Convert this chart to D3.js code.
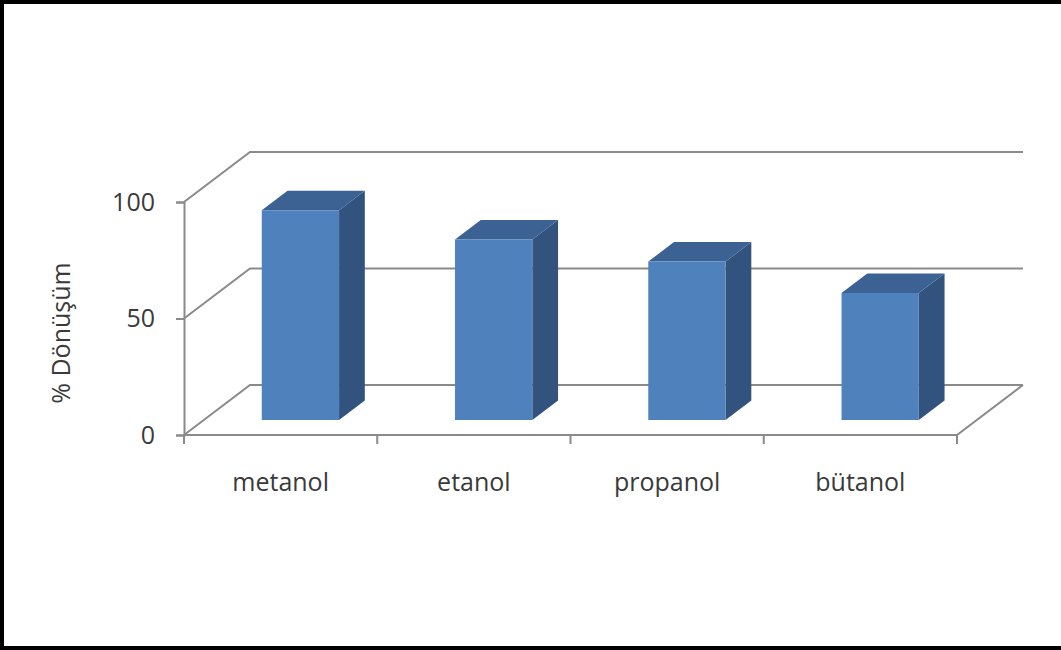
<!DOCTYPE html>
<html>
<head>
<meta charset="utf-8">
<script src="https://cdn.jsdelivr.net/npm/d3@7"></script>
<style>
  body { margin: 0; background: #fff; }
  text { font-family: "Open Sans", sans-serif; fill: #3a3a3a; }
</style>
</head>
<body>
<div id="chart"></div>
<script>
const categories = ['metanol', 'etanol', 'propanol', 'bütanol'],
	values = [90, 77.5, 68, 54.5],
	yTicks = [0, 50, 100],
	yTitle = '% Dönüşüm';

const W = 1061, H = 650,
	plot = {left: 184, right: 957, top: 202, bottom: 435},
	depth = {dx: 66, dy: -50},         // offset of back wall
	barDepth = [0.3, 0.69],            // bar sits between these depth fractions
	gridColor = '#8a8a8a',
	faceColor = '#4f81bd', topColor = '#3b6292', sideColor = '#31537d';

const svg = d3.select('#chart')
	.append('svg')
	.attr('width', W)
	.attr('height', H);

// outer frame (right side is cut off in the source)
svg.append('rect')
	.attr('x', 2).attr('y', 2)
	.attr('width', W + 10).attr('height', H - 4)
	.attr('fill', 'white')
	.attr('stroke', 'black')
	.attr('stroke-width', 4);

const x = d3.scaleBand()
	.domain(categories)
	.range([plot.left, plot.right])
	.paddingInner(0).paddingOuter(0);

const y = d3.scaleLinear()
	.domain([0, 100])
	.range([plot.bottom, plot.top]);

// point at (px on front plane, value, depth fraction)
const pt = (px, v, f) => [px + depth.dx * f, y(v) + depth.dy * f];
const line = d3.line();

// back wall gridlines + side wall diagonals
yTicks.forEach(v => {
	svg.append('path')
		.attr('d', line([pt(plot.left, v, 0), pt(plot.left, v, 1), pt(plot.right, v, 1)]))
		.attr('fill', 'none')
		.attr('stroke', gridColor)
		.attr('stroke-width', 2);
});

// floor front edge + right edge
svg.append('path')
	.attr('d', line([pt(plot.left, 0, 0), pt(plot.right, 0, 0), pt(plot.right, 0, 1)]))
	.attr('fill', 'none')
	.attr('stroke', gridColor)
	.attr('stroke-width', 2);

// y axis
const yAxis = d3.axisLeft(y).tickValues(yTicks).tickSize(8).tickPadding(21);
const gy = svg.append('g')
	.attr('transform', `translate(${plot.left},0)`)
	.call(yAxis);
gy.select('.domain').attr('stroke', gridColor).attr('stroke-width', 2);
gy.selectAll('.tick line').attr('stroke', gridColor).attr('stroke-width', 2);
gy.selectAll('.tick text')
	.attr('font-size', 25)
	.attr('font-family', '"Open Sans", sans-serif')
	.attr('fill', '#3a3a3a');

// x axis
const xAxis = d3.axisBottom(x).tickSize(0).tickPadding(38);
const gx = svg.append('g')
	.attr('transform', `translate(0,${plot.bottom})`)
	.call(xAxis);
gx.select('.domain').remove();
gx.selectAll('.tick text')
	.attr('font-size', 25)
	.attr('font-family', '"Open Sans", sans-serif')
	.attr('fill', '#3a3a3a');

// tick marks at band edges
svg.append('g').selectAll('line')
	.data(categories.concat(['end']))
	.enter()
	.append('line')
		.attr('x1', (d, i) => i < categories.length ? x(d) : plot.right)
		.attr('x2', (d, i) => i < categories.length ? x(d) : plot.right)
		.attr('y1', plot.bottom)
		.attr('y2', plot.bottom + 9)
		.attr('stroke', gridColor)
		.attr('stroke-width', 2);

// bars
const bars = svg.append('g').selectAll('g')
	.data(categories.map((c, i) => ({cat: c, v: values[i]})))
	.enter()
	.append('g');

const f0 = barDepth[0], f1 = barDepth[1];
const bx0 = d => x(d.cat) + x.bandwidth() * 0.3,
	bx1 = d => x(d.cat) + x.bandwidth() * 0.7;

// side face
bars.append('path')
	.attr('d', d => line([pt(bx1(d), 0, f0), pt(bx1(d), 0, f1), pt(bx1(d), d.v, f1), pt(bx1(d), d.v, f0)]) + 'Z')
	.attr('fill', sideColor);

// top face
bars.append('path')
	.attr('d', d => line([pt(bx0(d), d.v, f0), pt(bx0(d), d.v, f1), pt(bx1(d), d.v, f1), pt(bx1(d), d.v, f0)]) + 'Z')
	.attr('fill', topColor);

// front face
bars.append('path')
	.attr('d', d => line([pt(bx0(d), 0, f0), pt(bx1(d), 0, f0), pt(bx1(d), d.v, f0), pt(bx0(d), d.v, f0)]) + 'Z')
	.attr('fill', faceColor);

// y axis title
svg.append('text')
	.attr('transform', 'translate(70,333) rotate(-90)')
	.attr('text-anchor', 'middle')
	.attr('font-size', 25)
	.text(yTitle);
</script>
</body>
</html>
